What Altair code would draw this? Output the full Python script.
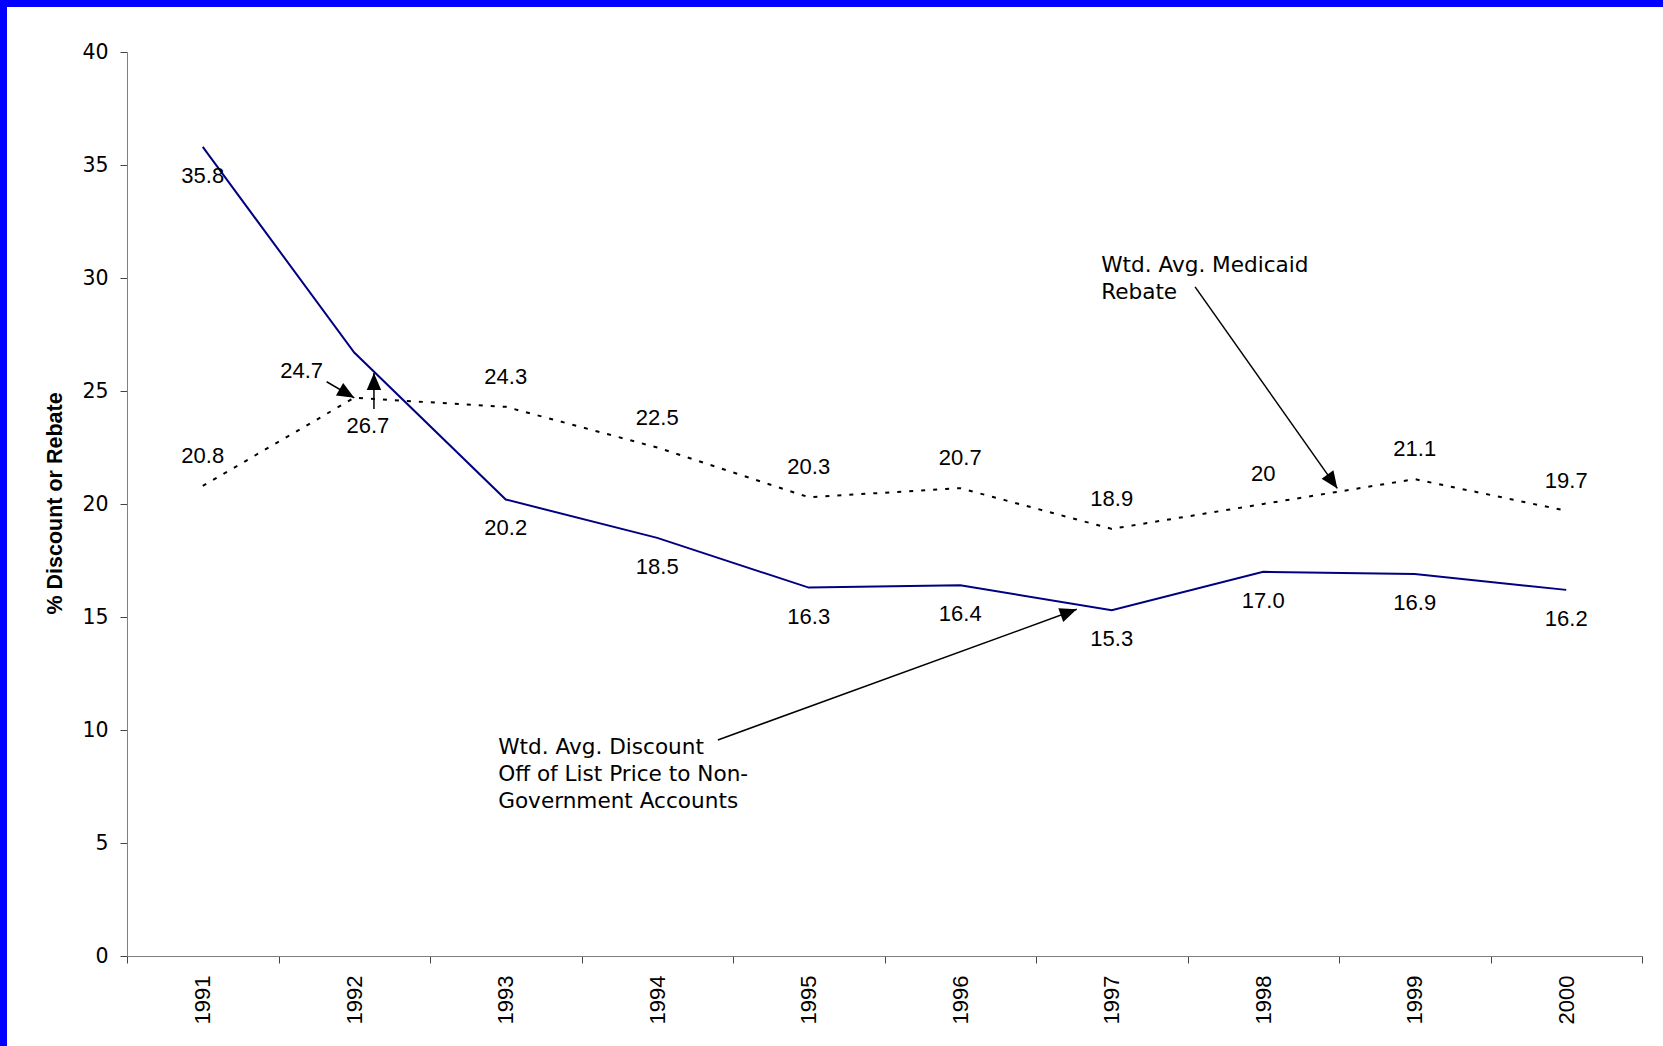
import math
import altair as alt
import pandas as pd

# ---------------- data ----------------
years = [1991, 1992, 1993, 1994, 1995, 1996, 1997, 1998, 1999, 2000]
discount = [35.8, 26.7, 20.2, 18.5, 16.3, 16.4, 15.3, 17.0, 16.9, 16.2]
rebate = [20.8, 24.7, 24.3, 22.5, 20.3, 20.7, 18.9, 20.0, 21.1, 19.7]
discount_labels = ["35.8", "26.7", "20.2", "18.5", "16.3", "16.4", "15.3", "17.0", "16.9", "16.2"]
rebate_labels = ["20.8", "24.7", "24.3", "22.5", "20.3", "20.7", "18.9", "20", "21.1", "19.7"]
y_ticks = [0, 5, 10, 15, 20, 25, 30, 35, 40]

# annotations, in data units (year, percent)
series_notes = ["Wtd. Avg. Medicaid\nRebate",
                "Wtd. Avg. Discount\nOff of List Price to Non-\nGovernment Accounts"]
series_note_u = [1996.93, 1992.95]
series_note_y = [30.28, 8.94]

moved_labels = ["24.7", "26.7"]          # the two 1992 labels pointed to by arrows
moved_label_u = [1991.653, 1992.09]
moved_label_y = [25.88, 23.45]

arrow_u1 = [1991.818, 1992.13, 1997.55, 1994.40]
arrow_y1 = [25.41, 24.2, 29.61, 9.56]
arrow_u2 = [1992.0, 1992.13, 1998.489, 1996.769]
arrow_y2 = [24.7, 25.8, 20.69, 15.34]

# ---------------- layout ----------------
W, H = 1515, 904
PAD_L, PAD_T = 127, 52
TOTAL_W, TOTAL_H = 1663, 1046
FONT = "Liberation Sans"
WIDE_FONT = "DejaVu Sans"

px_per_year = W / 10.0
px_per_pct = H / 40.0

lines_df = pd.DataFrame({
    "year": years * 2,
    "y": discount + rebate,
    "series": ["discount"] * 10 + ["rebate"] * 10,
})
disc_lab_df = pd.DataFrame({"year": years, "y": discount, "label": discount_labels})
disc_lab_df = disc_lab_df[disc_lab_df.year != 1992]
reb_lab_df = pd.DataFrame({"year": years, "y": rebate, "label": rebate_labels})
reb_lab_df = reb_lab_df[reb_lab_df.year != 1992]

notes_df = pd.DataFrame({"u": series_note_u, "y": series_note_y, "label": series_notes})
moved_df = pd.DataFrame({"u": moved_label_u, "y": moved_label_y, "label": moved_labels})

angles = []
for a, b, c, d in zip(arrow_u1, arrow_y1, arrow_u2, arrow_y2):
    dx = (c - a) * px_per_year
    dy = -(d - b) * px_per_pct
    angles.append(math.degrees(math.atan2(dx, -dy)) % 360)
arrows_df = pd.DataFrame({"u": arrow_u1, "y": arrow_y1, "u2": arrow_u2, "y2": arrow_y2})
heads_df = pd.DataFrame({"u": arrow_u2, "y": arrow_y2, "angle": angles})

# ---------------- encodings ----------------
x_band = alt.X(
    "year:O",
    title=None,
    scale=alt.Scale(type="band", paddingInner=0, paddingOuter=0),
    axis=alt.Axis(
        tickBand="extent", labelAngle=-90, labelFontSize=22, labelFont=FONT,
        labelColor="black", labelPadding=12, tickSize=7, tickColor="#444444",
        domainColor="#808080", grid=False, labelFlush=False,
    ),
)
y_enc = alt.Y(
    "y:Q",
    scale=alt.Scale(domain=[0, 40], nice=False, zero=True),
    axis=alt.Axis(
        values=y_ticks, labelFontSize=20.5, labelFont=WIDE_FONT, labelColor="black",
        labelPadding=12, tickSize=7, tickColor="#444444", domainColor="#808080",
        grid=False, title="% Discount or Rebate", titleFont=FONT, titleFontSize=21.5,
        titleFontWeight="bold", titleColor="black", titleAngle=270,
        titleAlign="center", titleBaseline="middle", titleX=-72, titleY=451,
    ),
)
x_q = alt.X("u:Q", scale=alt.Scale(domain=[1990.5, 2000.5], nice=False, zero=False), axis=None)

base_lines = alt.Chart(lines_df)
solid = base_lines.transform_filter(alt.datum.series == "discount").mark_line(
    color="#000080", strokeWidth=2).encode(x=x_band, y=y_enc)
dashed = base_lines.transform_filter(alt.datum.series == "rebate").mark_line(
    color="black", strokeWidth=2, strokeDash=[4, 8]).encode(x=x_band, y=y_enc)

disc_text = alt.Chart(disc_lab_df).mark_text(
    font=FONT, fontSize=22, color="black", dy=29, align="center", baseline="middle"
).encode(x=x_band, y=y_enc, text="label:N")
reb_text = alt.Chart(reb_lab_df).mark_text(
    font=FONT, fontSize=22, color="black", dy=-30, align="center", baseline="middle"
).encode(x=x_band, y=y_enc, text="label:N")

band_layer = alt.layer(solid, dashed, disc_text, reb_text)

notes = alt.Chart(notes_df).mark_text(
    font=WIDE_FONT, fontSize=21.6, color="black", align="left", baseline="alphabetic",
    lineBreak="\n", lineHeight=27,
).encode(x=x_q, y=y_enc, text="label:N")
moved = alt.Chart(moved_df).mark_text(
    font=FONT, fontSize=22, color="black", align="center", baseline="middle"
).encode(x=x_q, y=y_enc, text="label:N")
shafts = alt.Chart(arrows_df).mark_rule(color="black", strokeWidth=1.5).encode(
    x=x_q, y=y_enc, x2="u2:Q", y2="y2:Q")
heads = alt.Chart(heads_df).mark_point(
    shape="M0,0 L0.85,2 L-0.85,2 Z", filled=True, color="black", opacity=1,
    size=289, strokeWidth=0,
).encode(x=x_q, y=y_enc, angle=alt.Angle("angle:Q", scale=None))

frame_df = pd.DataFrame({"k": [0]})
top_strip = alt.Chart(frame_df).mark_rect(color="#0000FF").encode(
    x=alt.value(-PAD_L), x2=alt.value(TOTAL_W - PAD_L),
    y=alt.value(-PAD_T), y2=alt.value(-PAD_T + 7))
left_strip = alt.Chart(frame_df).mark_rect(color="#0000FF").encode(
    x=alt.value(-PAD_L), x2=alt.value(-PAD_L + 7),
    y=alt.value(-PAD_T), y2=alt.value(TOTAL_H - PAD_T))

annot_layer = alt.layer(shafts, heads, notes, moved)

chart = alt.layer(band_layer, annot_layer, top_strip, left_strip).resolve_scale(
    x="independent"
).properties(
    width=W, height=H,
    autosize=alt.AutoSizeParams(type="none"),
    padding={"left": PAD_L, "top": PAD_T, "right": TOTAL_W - PAD_L - W,
             "bottom": TOTAL_H - PAD_T - H},
    background="white",
).configure_view(stroke=None)

chart.save("out.html", embed_options={"renderer": "svg", "actions": False})
